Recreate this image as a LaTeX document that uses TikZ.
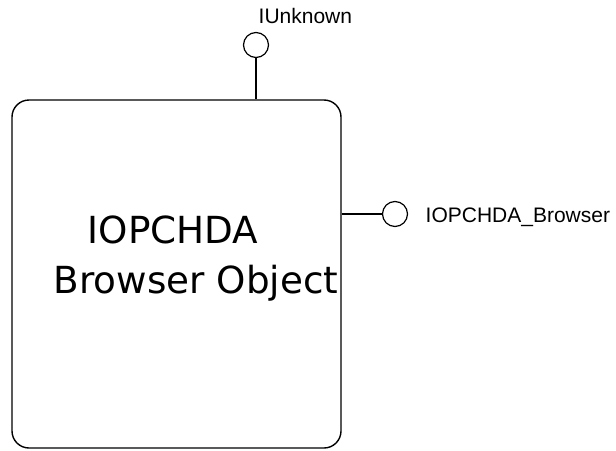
\documentclass[tikz,border=0pt]{standalone}
\usepackage{fontspec}
\newfontfamily\lblfont{Liberation Sans}
\newfontfamily\objfont{DejaVu Sans}
\begin{document}
\begin{tikzpicture}[x=1pt,y=-1pt,
  line width=1.4pt,
  lolli/.style={draw, circle, minimum size=25pt, inner sep=0pt, line width=1.2pt},
  lbl/.style={anchor=base west, inner sep=0pt, font=\lblfont\fontsize{21}{24}\selectfont},
  objtxt/.style={anchor=base west, inner sep=0pt, font=\objfont\fontsize{37.3}{40}\selectfont},
  objbox/.style={draw, rounded corners=17pt, minimum width=329pt, minimum height=348pt, inner sep=0pt}]
\useasboundingbox[fill=white] (0,0) rectangle (616,450);
\node[objbox] (obj) at (176.5,274) {};
\node[objtxt] (t1) at (87,243) {IOPCHDA};
\node[objtxt] (t2) at (53,293) {Browser Object};
\node[lolli] (iu) at (256,45) {};
\node[lolli] (ib) at (395,214) {};
\node[lbl] (iul) at (258,23) {IUnknown};
\node[lbl] (ibl) at (425,222) {IOPCHDA\_Browser};
\draw (obj.north -| iu) -- (iu.south);
\draw (obj.east |- ib) -- (ib.west);
\end{tikzpicture}
\end{document}
